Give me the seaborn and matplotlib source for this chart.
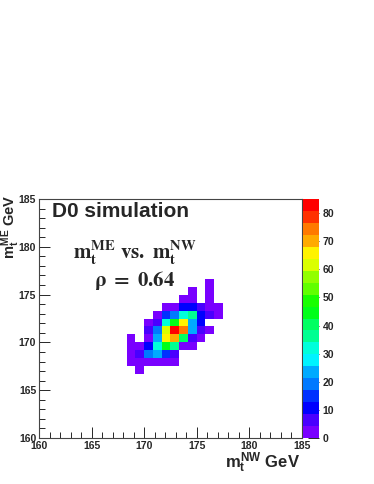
import colorsys
import numpy as np
import pandas as pd
import matplotlib
matplotlib.use("Agg")
import matplotlib.pyplot as plt
from matplotlib.colors import ListedColormap
from matplotlib.ticker import MultipleLocator
import seaborn as sns

# 2D histogram of top mass: ME method vs NW method (30 x 30 bins over 160-185 GeV)
x_bins = [10, 11, 12, 13, 14, 15, 16, 17, 18, 19, 20]
y_bins = [19, 18, 17, 16, 15, 14, 13, 12, 11, 10, 9, 8]
counts = [
    [0, 0, 0, 0, 0, 0, 0, 0, 0, 2, 0],
    [0, 0, 0, 0, 0, 0, 0, 2, 0, 2, 0],
    [0, 0, 0, 0, 0, 0, 3, 3, 0, 2, 0],
    [0, 0, 0, 0, 3, 4, 12, 12, 7, 3, 2],
    [0, 0, 0, 3, 14, 18, 31, 35, 12, 7, 3],
    [0, 0, 3, 7, 31, 45, 64, 25, 12, 0, 0],
    [0, 0, 6, 17, 62, 84, 73, 22, 7, 3, 0],
    [2, 0, 3, 24, 67, 72, 40, 8, 3, 0, 0],
    [2, 3, 11, 31, 46, 35, 4, 3, 0, 0, 0],
    [2, 7, 18, 22, 16, 8, 0, 0, 0, 0, 0],
    [2, 3, 3, 4, 3, 2, 0, 0, 0, 0, 0],
    [0, 2, 0, 0, 0, 0, 0, 0, 0, 0, 0],
]
lo, hi, nbins = 160, 185, 30
width = (hi - lo) / nbins

rows = []
for j, row in zip(y_bins, counts):
    for i, c in zip(x_bins, row):
        if c > 0:
            rows.append({"m_nw": lo + (i + 0.5) * width,
                         "m_me": lo + (j + 0.5) * width, "n": c})
df = pd.DataFrame(rows)

# ROOT-like rainbow palette, 20 contour levels
ncol, ndiv = 50, 20
cols = []
for k in range(ndiv):
    idx = int((k + 0.99) * ncol / ndiv)
    hue = 280 * (1 - idx / (ncol - 1))
    cols.append(colorsys.hsv_to_rgb(hue / 360, 1, 1))
cmap = ListedColormap(cols)

sns.set_style("ticks")
plt.rcParams["font.family"] = ["Liberation Sans", "DejaVu Sans"]
plt.rcParams["mathtext.fontset"] = "custom"
plt.rcParams["mathtext.rm"] = "Liberation Sans:bold"
plt.rcParams["mathtext.it"] = "Liberation Sans:bold"
plt.rcParams["mathtext.bf"] = "Liberation Sans:bold"

fig = plt.figure(figsize=(3.74, 4.84), dpi=100)
ax = fig.add_axes([39 / 374, 1 - 438 / 484, 262.7 / 374, 239 / 484])
cax = fig.add_axes([303 / 374, 1 - 438 / 484, 15.5 / 374, 239 / 484])

sns.histplot(data=df, x="m_nw", y="m_me", weights="n", bins=nbins,
             binrange=((lo, hi), (lo, hi)), cmap=cmap, vmin=0, vmax=85,
             cbar=True, cbar_ax=cax, ax=ax)

ax.set_xlim(lo, hi)
ax.set_ylim(lo, hi)
ax.set_xlabel("")
ax.set_ylabel("")
ax.xaxis.set_major_locator(MultipleLocator(5))
ax.xaxis.set_minor_locator(MultipleLocator(1))
ax.yaxis.set_major_locator(MultipleLocator(5))
ax.yaxis.set_minor_locator(MultipleLocator(1))
ax.tick_params(which="major", direction="in", length=8, width=0.7,
               labelsize=7.5, pad=2)
ax.tick_params(which="minor", direction="in", length=4, width=0.7)
for lab in ax.get_xticklabels() + ax.get_yticklabels():
    lab.set_fontweight("bold")
for sp in ax.spines.values():
    sp.set_linewidth(0.8)
    sp.set_color("#444444")
    sp.set_visible(True)

cax.tick_params(direction="in", length=8, width=0.7, labelsize=7.5, pad=3)
cax.yaxis.set_major_locator(MultipleLocator(10))
for lab in cax.get_yticklabels():
    lab.set_fontweight("bold")
for sp in cax.spines.values():
    sp.set_visible(False)
cbar = ax.collections[0].colorbar
if cbar is not None:
    cbar.outline.set_visible(False)

ax.text(0.049, 0.946, "D0 simulation", transform=ax.transAxes,
        fontsize=15, fontweight="bold", ha="left", va="center")
ax.text(0.365, 0.775, r"$\mathbf{m_t^{ME}\ vs.\ m_t^{NW}}$",
        transform=ax.transAxes, fontsize=15, ha="center", va="center",
        math_fontfamily="stix")
ax.text(0.365, 0.660, r"$\mathbf{\rho\ =\ 0.64}$", transform=ax.transAxes,
        fontsize=15, ha="center", va="center", math_fontfamily="stix")

fig.text(10.5 / 374, 1 - 194 / 484, r"$m_t^{ME}$ GeV", rotation=90,
         fontsize=10.5, fontweight="bold", ha="center", va="top")
fig.text(300 / 374, 1 - 463 / 484, r"$m_t^{NW}$ GeV",
         fontsize=12, fontweight="bold", ha="right", va="center")

fig.savefig("out.png", dpi=100)
